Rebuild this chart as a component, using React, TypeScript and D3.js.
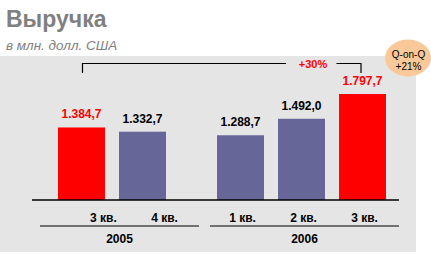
import React from "react";
import * as d3 from "d3";

const categories = ["3 кв.", "4 кв.", "1 кв.", "2 кв.", "3 кв."];
const years = ["2005", "2005", "2006", "2006", "2006"];
const values = [1384.7, 1332.7, 1288.7, 1492.0, 1797.7];
const valueLabels = ["1.384,7", "1.332,7", "1.288,7", "1.492,0", "1.797,7"];
const highlighted = [true, false, false, false, true];
const groups = ["2005", "2006"];
const growthLabel = "+30%";
const qoqLines = ["Q-on-Q", "+21%"];

const W = 431;
const H = 255;
const FONT = "Arial, 'Liberation Sans', sans-serif";

export default function App() {
  const keys = values.map((_, i) => String(i));
  const x = d3.scaleBand<string>().domain(keys).range([58, 349]).paddingInner(0.23).paddingOuter(0);
  const groupOffset = (i: number) => (years[i] === "2006" ? 37 : 0);
  const y = d3.scaleLinear().domain([490, 1797.7]).range([200, 94]);
  const bw = x.bandwidth();
  const bx = (i: number) => (x(keys[i]) as number) + groupOffset(i);
  const cx = (i: number) => bx(i) + bw / 2;
  const labelShift = (i: number) => (years[i] === "2005" ? 22 : 2);

  const groupExtent: Record<string, [number, number]> = { "2005": [40, 199], "2006": [210, 399] };
  const left = cx(0) + 1;
  const right = cx(4) - 1.5;
  const bracketY = 63.5;
  const growthX = 313;

  return (
    <svg width={W} height={H} style={{ position: "absolute", left: 0, top: 0 }} fontFamily={FONT}>
      <rect x={0} y={0} width={W} height={H} fill="#fff" />
      <rect x={0} y={56} width={416} height={196} fill="#e5e5e5" />
      <text x={6} y={27} fontSize={23} fontWeight="bold" fill="#808080">Выручка</text>
      <text x={6} y={50} fontSize={13.5} fontStyle="italic" fill="#808080">в млн. долл. США</text>

      {values.map((v, i) => (
        <g key={i}>
          <rect x={bx(i)} y={y(v)} width={bw} height={200 - y(v)} fill={highlighted[i] ? "#ff0000" : "#666699"} />
          <text x={cx(i)} y={y(v) - 9} textAnchor="middle" fontSize={12} fontWeight="bold" fill={highlighted[i] ? "#ff0000" : "#000"}>{valueLabels[i]}</text>
          <text x={cx(i) + labelShift(i)} y={221.5} textAnchor="middle" fontSize={12} fontWeight="bold" fill="#000">{categories[i]}</text>
        </g>
      ))}
      <line x1={32} x2={399} y1={200} y2={200} stroke="#000" strokeWidth={1.5} />

      {groups.map((g) => (
        <g key={g}>
          <line x1={groupExtent[g][0]} x2={groupExtent[g][1]} y1={226} y2={226} stroke="#000" strokeWidth={1.2} />
          <text x={(groupExtent[g][0] + groupExtent[g][1]) / 2} y={242.5} textAnchor="middle" fontSize={12} fontWeight="bold" fill="#000">{g}</text>
        </g>
      ))}

      <path d={`M${left},73 V${bracketY} H${growthX - 27}`} fill="none" stroke="#000" strokeWidth={1.2} />
      <path d={`M${growthX + 23.5},${bracketY} H${right} V73`} fill="none" stroke="#000" strokeWidth={1.2} />
      <text x={growthX} y={67.7} textAnchor="middle" fontSize={11} fontWeight="bold" fill="#ff0000">{growthLabel}</text>

      <ellipse cx={408} cy={58} rx={23} ry={18.5} fill="#f9c99a" />
      {qoqLines.map((t, i) => (
        <text key={i} x={408.5} y={57.5 + i * 12.5} textAnchor="middle" fontSize={10} fill="#000">{t}</text>
      ))}
    </svg>
  );
}
